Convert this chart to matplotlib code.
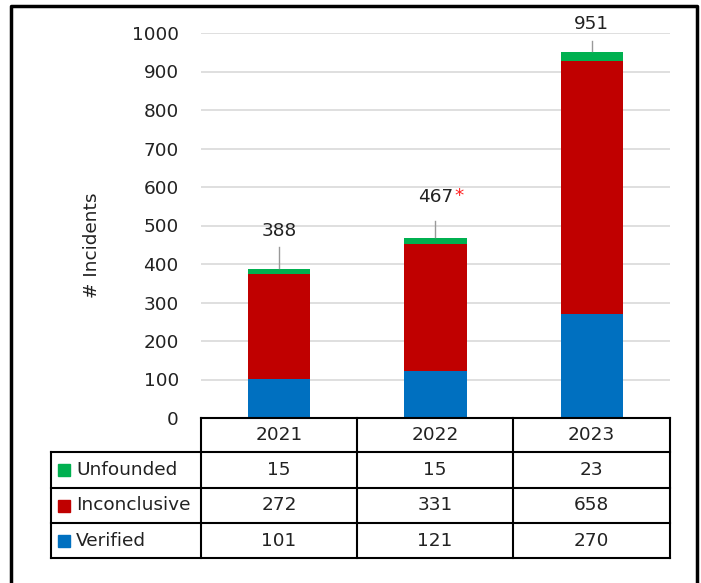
import numpy as np
import matplotlib
matplotlib.use("Agg")
import matplotlib.pyplot as plt
from matplotlib.patches import Rectangle

years = ["2021", "2022", "2023"]
series = ["Unfounded", "Inconclusive", "Verified"]
verified = [101, 121, 270]
inconclusive = [272, 331, 658]
unfounded = [15, 15, 23]
totals = [388, 467, 951]
flagged = [False, True, False]   # red asterisk next to total
colors = {"Verified": "#0070C0", "Inconclusive": "#C00000", "Unfounded": "#00B050"}
values = {"Unfounded": unfounded, "Inconclusive": inconclusive, "Verified": verified}

# label placement above the bars (text offset, leader length) in data units
lbl_off = [99, 106, 73]
lead_len = [57, 44, 29]

W, H = 701, 583
fig = plt.figure(figsize=(W / 100, H / 100), dpi=100)
plt.rcParams['font.family'] = ['DejaVu Sans']
fs = 13.3
txt = "#222222"

def fx(px):
    return px / W
def fy(py):
    return 1 - py / H

# main chart axes: x 201..670, y 33..418 (0..1000)
ax = fig.add_axes([fx(201), fy(418), fx(670) - fx(201), fy(33) - fy(418)])
x = np.arange(len(years))
ax.bar(x, verified, 0.4, color=colors["Verified"], zorder=3)
ax.bar(x, inconclusive, 0.4, bottom=verified, color=colors["Inconclusive"], zorder=3)
bot2 = np.array(verified) + np.array(inconclusive)
ax.bar(x, unfounded, 0.4, bottom=bot2, color=colors["Unfounded"], zorder=3)

ax.set_xlim(-0.5, 2.5)
ax.set_ylim(0, 1000)
ax.set_yticks(np.arange(0, 1001, 100))
ax.yaxis.grid(True, color="#D9D9D9", linewidth=1.2, zorder=0)
ax.set_xticks([])
for s in ax.spines.values():
    s.set_visible(False)
ax.tick_params(axis="y", length=0, pad=16, labelsize=fs, labelcolor=txt)

# total labels with leader lines
for i, t in enumerate(totals):
    ax.plot([i, i], [t + 2, t + lead_len[i]], color="#999999", linewidth=1, zorder=4, clip_on=False)
    lbl = ax.text(i, t + lbl_off[i], str(t), ha="center", va="center", fontsize=fs, color=txt)
    if flagged[i]:
        ax.annotate("*", xy=(1, 0.5), xycoords=lbl, xytext=(1, 1), textcoords="offset points",
                    ha="left", va="center", fontsize=fs, color="#FF2020")

# overlay axes for table, label, border (pixel coords)
ov = fig.add_axes([0, 0, 1, 1], facecolor="none")
ov.set_xlim(0, W)
ov.set_ylim(H, 0)
ov.axis("off")

ov.text(92, 245, "# Incidents", rotation=90, ha="center", va="center", fontsize=fs, color=txt)

# outer border
ov.plot([11, 11, 697, 697], [H + 5, 6, 6, H + 5], color="black", linewidth=2.5, clip_on=False)

# table
col_x = [51, 201, 357, 513, 670]
row_y = [418, 452, 488, 523, 558]
lw = 1.5
ov.plot([col_x[1], col_x[-1]], [row_y[0], row_y[0]], color="black", lw=lw)
for yy in row_y[1:]:
    ov.plot([col_x[0], col_x[-1]], [yy, yy], color="black", lw=lw)
ov.plot([col_x[0], col_x[0]], [row_y[1], row_y[-1]], color="black", lw=lw)
for xx in col_x[1:]:
    ov.plot([xx, xx], [row_y[0], row_y[-1]], color="black", lw=lw)

for j, yr in enumerate(years):
    cx = (col_x[j + 1] + col_x[j + 2]) / 2
    ov.text(cx, (row_y[0] + row_y[1]) / 2, yr, ha="center", va="center", fontsize=fs, color=txt)
for r, name in enumerate(series):
    cy = (row_y[r + 1] + row_y[r + 2]) / 2
    ov.add_patch(Rectangle((58, cy - 6), 12, 12, color=colors[name]))
    ov.text(76, cy, name, ha="left", va="center", fontsize=fs, color=txt)
    for j in range(len(years)):
        cx = (col_x[j + 1] + col_x[j + 2]) / 2
        ov.text(cx, cy, str(values[name][j]), ha="center", va="center", fontsize=fs, color=txt)

fig.savefig("out.png", dpi=100)
